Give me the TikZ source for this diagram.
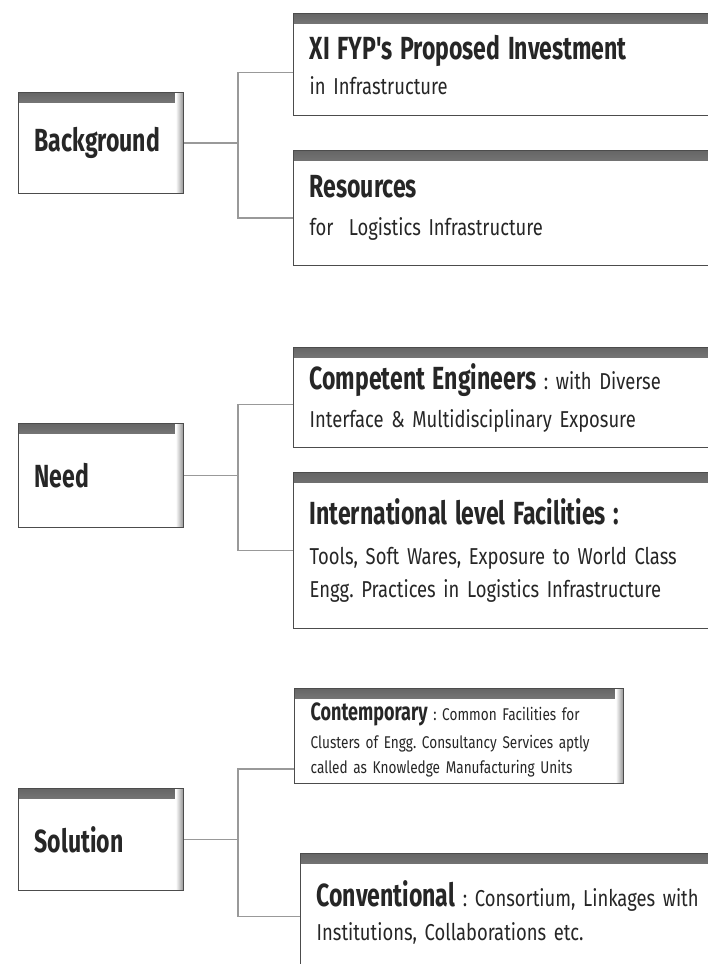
\documentclass[tikz,border=0pt]{standalone}
\usepackage{fontspec}
\setmainfont{Fira Sans}
\newfontfamily\hdfam{Fira Sans}[FakeStretch=0.72]
\newfontfamily\subfam{Fira Sans}[FakeStretch=0.8]
\usetikzlibrary{positioning}
\usetikzlibrary{calc}
\frenchspacing
\newcommand{\hd}{\hdfam\bfseries\fontsize{32}{38}\selectfont}
\newcommand{\mhd}{\hdfam\bfseries\fontsize{25}{30}\selectfont}
\newcommand{\sm}{\subfam\fontsize{23}{29}\selectfont}
\newcommand{\tn}{\subfam\fontsize{17}{21}\selectfont}
\tikzset{every picture/.style={line width=1pt},
panel/.style={draw=black!70,line width=1.4pt,fill=white,anchor=north west,align=left,inner xsep=16pt,inner ysep=0pt,text=black!85,
 path picture={\shade[top color=black!60,bottom color=white] (path picture bounding box.north west) rectangle ([yshift=-10pt]path picture bounding box.north east);
 \shade[left color=white,right color=black!45] ([xshift=-8pt]path picture bounding box.north east) rectangle (path picture bounding box.south east);}},
link/.style={draw=black!40,line width=1.5pt}}

\begin{document}
\begin{tikzpicture}[x=1pt,y=-1pt]
\useasboundingbox (0,0) rectangle (708,964);
\clip (0,0) rectangle (708,964);
% left column
\node[panel,text width=133pt,minimum height=101pt,font=\hd] (bg) at (18,92) {Background};
\node[panel,text width=133pt,minimum height=104pt,font=\hd] (need) at (18,423) {Need};
\node[panel,text width=133pt,minimum height=102pt,font=\hd] (sol) at (18,788) {Solution};
% right column
\node[panel,text width=395pt,minimum height=102pt,font=\sm] (inv) at (293,13) {{\hd XI FYP's Proposed Investment}\\[6pt]in Infrastructure};
\node[panel,text width=395pt,minimum height=115pt,font=\sm] (res) at (293,150) {{\hd Resources}\\[9pt]for~ Logistics Infrastructure};
\node[panel,text width=395pt,minimum height=100pt,font=\sm] (eng) at (293,347) {{\hd Competent Engineers} : with Diverse\\[9pt]Interface \& Multidisciplinary Exposure};
\node[panel,text width=395pt,minimum height=156pt,font=\sm] (fac) at (293,472) {{\hd International level Facilities :}\\[11pt]Tools, Soft Wares, Exposure to World Class\\[4pt]Engg. Practices in Logistics Infrastructure};
\node[panel,text width=297pt,minimum height=95pt,font=\tn] (con) at (294,688) {\rule{0pt}{26pt}{\mhd Contemporary} : Common Facilities for\\[7pt]Clusters of Engg. Consultancy Services aptly\\[4pt]called as Knowledge Manufacturing Units};
\node[panel,text width=388pt,minimum height=118pt,font=\sm] (conv) at (300,853) {{\hd Conventional} : Consortium, Linkages with\\[5pt]Institutions, Collaborations etc.};
% connectors
\draw[link] (bg.east) -- ++(55,0);
\draw[link] ([yshift=-8pt]inv.west) -- ++(-55,0) |- ([yshift=-10pt]res.west);
\draw[link] (need.east) -- ++(55,0);
\draw[link] ([yshift=-7pt]eng.west) -- ++(-55,0) |- (fac.west);
\draw[link] (sol.east) -- ++(55,0);
\draw[link] ([yshift=-33pt]con.west) -- ++(-56,0) |- ([yshift=-4pt]conv.west);
\end{tikzpicture}
\end{document}
